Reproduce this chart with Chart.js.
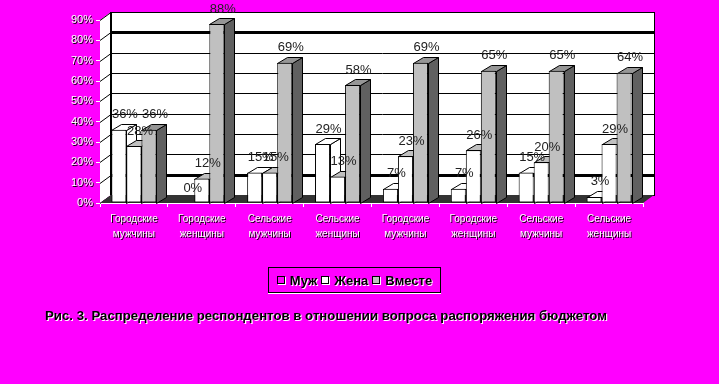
<!DOCTYPE html>
<html>
<head>
<meta charset="utf-8">
<script src="https://cdn.jsdelivr.net/npm/chart.js@4/dist/chart.umd.min.js"></script>
<style>
  html, body { margin:0; padding:0; background:#ff00ff; }
  #wrap { position:relative; width:719px; height:384px; background:#ff00ff; overflow:hidden; }
  canvas { position:absolute; left:0; top:0; }
  #legend { position:absolute; left:268px; top:267px; width:171px; height:24px; border:1px solid #000;
            box-shadow:0 1px 0 #fff; display:flex; align-items:center; justify-content:center;
            font:bold 13px "Liberation Sans", Arial, sans-serif; color:#000; text-shadow:1px 1px 0 #fff; }
  #legend .it { display:flex; align-items:center; margin:0 2px; }
  #legend .sw { width:6px; height:6px; border:1px solid #000; margin-right:5px; box-shadow:1px 1px 0 #fff; }
  #caption { position:absolute; left:45px; top:308px; white-space:nowrap; transform-origin:0 0;
             font:bold 13px "Liberation Sans", Arial, sans-serif; color:#000; text-shadow:1px 1px 0 #fff; }
</style>
</head>
<body>
<div id="wrap">
  <canvas id="c" width="719" height="384"></canvas>
  <div id="legend"></div>
  <div id="caption">Рис. 3. Распределение респондентов в отношении вопроса распоряжения бюджетом</div>
</div>
<script>
// ---- data ----
const categories = [
  ['Городские','мужчины'], ['Городские','женщины'],
  ['Сельские','мужчины'],  ['Сельские','женщины'],
  ['Городские','мужчины'], ['Городские','женщины'],
  ['Сельские','мужчины'],  ['Сельские','женщины']
];
const seriesNames = ['Муж', 'Жена', 'Вместе'];
const muzh   = [36, 0, 15, 29, 7, 7, 15, 3];
const zhena  = [28, 12, 15, 13, 23, 26, 20, 29];
const vmeste = [36, 88, 69, 58, 69, 65, 65, 64];
const yMax = 90;
const yStep = 10;

// ---- styles ----
const frontColors = ['#ffffff', '#ffffff', '#c0c0c0'];
const topColors   = ['#ffffff', '#c0c0c0', '#969696'];
const sideColors  = ['#ffffff', '#c0c0c0', '#606060'];
const legendColors = ['#ff00ff', '#ffffff', '#c0c0c0'];

// legend (HTML)
const lg = document.getElementById('legend');
seriesNames.forEach((n, i) => {
  const it = document.createElement('div'); it.className = 'it';
  const sw = document.createElement('div'); sw.className = 'sw'; sw.style.background = legendColors[i];
  const tx = document.createElement('span'); tx.textContent = n;
  it.appendChild(sw); it.appendChild(tx); lg.appendChild(it);
});
// caption fitted to reference width
const cap = document.getElementById('caption');
const cw = cap.getBoundingClientRect().width;
if (cw > 0) cap.style.transform = 'scaleX(' + (562 / cw) + ')';

const WALL_DX = 11, WALL_DY = -8;   // back wall depth offset
const BAR_DX = 10, BAR_DY = -6;     // bar depth offset

let origFillText = null;
const threeD = {
  id: 'threeD',
  beforeDraw(chart) {
    const ctx = chart.ctx;
    origFillText = ctx.fillText;
    ctx.fillText = function (t, x, y, mw) {
      const fs = this.fillStyle;
      this.fillStyle = '#000';
      if (mw !== undefined) origFillText.call(this, t, x + 1, y + 1, mw); else origFillText.call(this, t, x + 1, y + 1);
      this.fillStyle = fs;
      if (mw !== undefined) origFillText.call(this, t, x, y, mw); else origFillText.call(this, t, x, y);
    };
  },
  beforeDatasetsDraw(chart) {
    const ctx = chart.ctx;
    if (origFillText) { ctx.fillText = origFillText; origFillText = null; }
    const a = chart.chartArea, ys = chart.scales.y;
    const yTop = ys.getPixelForValue(yMax), yBot = ys.getPixelForValue(0);
    const L = a.left, R = a.right;
    ctx.save();
    // back wall
    ctx.fillStyle = '#fff';
    ctx.fillRect(L + WALL_DX, yTop + WALL_DY, R - L, yBot - yTop);
    // left side wall
    ctx.beginPath();
    ctx.moveTo(L, yTop); ctx.lineTo(L + WALL_DX, yTop + WALL_DY);
    ctx.lineTo(L + WALL_DX, yBot + WALL_DY); ctx.lineTo(L, yBot); ctx.closePath();
    ctx.fill();
    // grid lines on back and side wall
    ctx.strokeStyle = '#000';
    for (let v = 0; v <= yMax; v += yStep) {
      const y = Math.round(ys.getPixelForValue(v)) + 0.5;
      ctx.lineWidth = (v === 10 || v === 80) ? 3 : 1;
      ctx.beginPath();
      ctx.moveTo(L + WALL_DX, y + WALL_DY); ctx.lineTo(R + WALL_DX, y + WALL_DY); ctx.stroke();
      ctx.lineWidth = 1;
      ctx.beginPath();
      ctx.moveTo(L, y); ctx.lineTo(L + WALL_DX, y + WALL_DY); ctx.stroke();
    }
    // wall borders
    ctx.lineWidth = 1;
    ctx.strokeRect(L + WALL_DX + 0.5, Math.round(yTop + WALL_DY) + 0.5, R - L, yBot - yTop);
    ctx.lineWidth = 2;
    ctx.beginPath(); ctx.moveTo(L + WALL_DX, yTop + WALL_DY); ctx.lineTo(L + WALL_DX, yBot + WALL_DY); ctx.stroke();
    // floor
    ctx.fillStyle = '#333333';
    ctx.beginPath();
    ctx.moveTo(L, yBot); ctx.lineTo(R, yBot);
    ctx.lineTo(R + WALL_DX, yBot + WALL_DY); ctx.lineTo(L + WALL_DX, yBot + WALL_DY); ctx.closePath();
    ctx.fill();
    // bar tops and sides
    ctx.lineWidth = 1; ctx.strokeStyle = '#000';
    const n = chart.data.labels.length;
    for (let j = 0; j < n; j++) {
      chart.data.datasets.forEach((ds, i) => {
        const el = chart.getDatasetMeta(i).data[j];
        if (!el || !ds.data[j]) return;
        const p = el.getProps(['x', 'y', 'base', 'width'], true);
        const l = Math.round(p.x - p.width / 2) + 0.5, r = Math.round(p.x + p.width / 2) + 0.5;
        const t = Math.round(p.y) + 0.5, b = Math.round(p.base) + 0.5;
        ctx.fillStyle = sideColors[i];
        ctx.beginPath();
        ctx.moveTo(r, t); ctx.lineTo(r + BAR_DX, t + BAR_DY); ctx.lineTo(r + BAR_DX, b + BAR_DY); ctx.lineTo(r, b);
        ctx.closePath(); ctx.fill(); ctx.stroke();
        ctx.fillStyle = topColors[i];
        ctx.beginPath();
        ctx.moveTo(l, t); ctx.lineTo(r, t); ctx.lineTo(r + BAR_DX, t + BAR_DY); ctx.lineTo(l + BAR_DX, t + BAR_DY);
        ctx.closePath(); ctx.fill(); ctx.stroke();
      });
    }
    ctx.restore();
  },
  afterDatasetsDraw(chart) {
    const ctx = chart.ctx;
    ctx.save();
    ctx.font = '13px "Liberation Sans", Arial, sans-serif';
    ctx.fillStyle = '#222';
    ctx.textAlign = 'center';
    ctx.textBaseline = 'middle';
    chart.data.datasets.forEach((ds, i) => {
      chart.getDatasetMeta(i).data.forEach((el, j) => {
        const p = el.getProps(['x', 'y'], true);
        ctx.fillText(ds.data[j] + '%', p.x + 6, p.y - 15);
      });
    });
    ctx.restore();
  }
};

const datasets = [muzh, zhena, vmeste].map((d, i) => ({
  label: seriesNames[i],
  data: d,
  backgroundColor: frontColors[i],
  borderColor: '#000',
  borderWidth: 1,
  borderSkipped: false,
  categoryPercentage: 0.664,
  barPercentage: 1.0
}));

new Chart(document.getElementById('c'), {
  type: 'bar',
  data: { labels: categories, datasets },
  plugins: [threeD],
  options: {
    responsive: false,
    animation: false,
    layout: { padding: { left: 0, top: 20, right: 76, bottom: 0 } },
    plugins: { legend: { display: false }, title: { display: false }, tooltip: { enabled: false } },
    scales: {
      x: {
        grid: { drawOnChartArea: false, drawTicks: true, tickLength: 4, color: '#fff', offset: true },
        border: { display: true, color: '#fff' },
        ticks: { color: '#fff', font: { family: '"Liberation Sans", Arial, sans-serif', size: 10, lineHeight: 1.5 },
                 padding: 5, maxRotation: 0, autoSkip: false },
        afterFit(s) { s.height = 181; }
      },
      y: {
        min: 0, max: yMax,
        grid: { drawOnChartArea: false, drawTicks: true, tickLength: 4, color: '#fff' },
        border: { display: false },
        ticks: { stepSize: yStep, color: '#fff', padding: 3,
                 font: { family: '"Liberation Sans", Arial, sans-serif', size: 11 },
                 callback: v => v + '%' },
        afterFit(s) { s.width = 100; }
      }
    }
  }
});
</script>
</body>
</html>
